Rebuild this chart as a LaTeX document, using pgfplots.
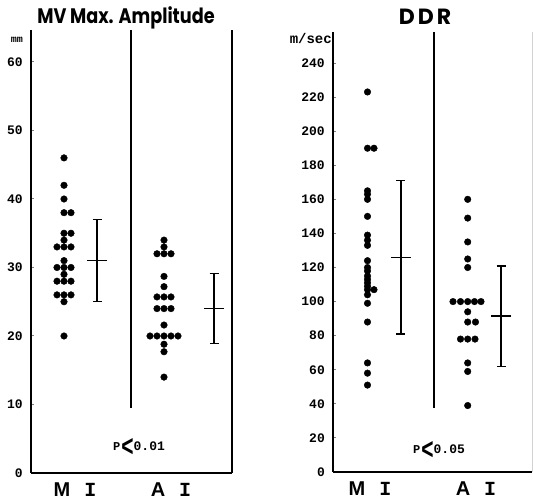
\documentclass[border=0pt]{standalone}
\usepackage{fontspec}
\setmainfont{Liberation Sans}
\newfontfamily\monofont{Liberation Mono}
\newfontfamily\titlefont{Poppins}
\usepackage{pgfplots}
\pgfplotsset{compat=1.18}

\newcommand\grp[1]{#1\hspace{14pt}{\monofont I}}
\newcommand\pval[1]{{\monofont\bfseries\fontsize{12}{12}\selectfont P}\hspace{1pt}\raisebox{-6pt}{\scalebox{0.7}[1]{\bfseries\fontsize{30}{30}\selectfont <}}{\monofont\bfseries\fontsize{13}{13}\selectfont #1}}

\pgfplotsset{
  panel/.style={
    scale only axis, anchor=south west, clip=false,
    axis x line=bottom, axis y line=left,
    axis line style={-, line width=1.6pt},
    tick align=inside, major tick length=3pt,
    y tick style={line width=1pt},
    x tick style={draw=none},
    /pgf/number format/assume math mode=true,
    yticklabel style={font=\monofont\bfseries\fontsize{13}{13}\selectfont, inner sep=0pt, xshift=-8pt},
    xticklabel style={font=\bfseries\fontsize{20}{20}\selectfont, inner sep=0pt, anchor=north, yshift=-10pt},
  },
  dots/.style={only marks, mark=*, mark size=3.3pt, black},
  sd/.style={black, only marks, mark=-, mark size=10pt, mark options={line width=1.5pt},
    error bars/.cd, y dir=both, y explicit, error mark=-,
    error bar style={line width=1.6pt},
    error mark options={rotate=90, line width=1.5pt, mark size=4.5pt}},
}

\begin{document}
\begin{tikzpicture}
\useasboundingbox (0pt,0pt) rectangle (533pt,503pt);

\node[font=\titlefont\bfseries\fontsize{21}{21}\selectfont, xscale=0.84, transform shape] at (126pt,485pt) {MV Max. Amplitude};
\node[font=\titlefont\bfseries\fontsize{22}{22}\selectfont] at (425pt,486pt) {D\hspace{3pt}D\hspace{3pt}R};
\node[font=\monofont\bfseries\fontsize{10}{10}\selectfont] at (17pt,463pt) {mm};
\node[font=\monofont\bfseries\fontsize{14}{14}\selectfont, anchor=east, inner sep=0pt] at (332pt,464pt) {m/sec};

% left panel: MV max. amplitude (mm)
\begin{axis}[panel, at={(31pt,30pt)}, width=201pt, height=443pt,
  xmin=31, xmax=232, ymin=0, ymax=64.67,
  ytick={0,10,...,60},
  xtick={75,171}, xticklabels={{\grp{M}},{\grp{A}}}]
\addplot[dots] coordinates {
  (64,46) (64,42) (64,40) (64,38) (71,38) (64,35) (71,35) (64,34)
  (57,33) (64,33) (71,33) (64,31) (57,30) (64,30) (71,30) (64,29)
  (57,28) (64,28) (71,28) (57,26) (64,26) (71,26) (64,25) (64,20)};
\addplot[dots] coordinates {
  (164,34) (164,33) (157,32) (164,32) (171,32) (164,28.7) (164,27.2)
  (157,25.7) (164,25.7) (171,25.7) (157,24) (164,24) (171,24) (164,21.6)
  (150,20) (157,20) (164,20) (171,20) (178,20) (164,18.8) (164,17.7) (164,14)};
\addplot[sd] coordinates {(97,31) +- (0,6)};
\addplot[sd] coordinates {(214,24) +- (0,5.1)};
\draw[line width=1.6pt] (axis cs:131,9.5) -- (axis cs:131,64.67);
\draw[line width=1.6pt] (axis cs:232,0) -- (axis cs:232,64.67);
\node[anchor=west, inner sep=0pt] at (axis cs:113,3.65) {\pval{0.01}};
\end{axis}

% right panel: DDR (m/sec)
\begin{axis}[panel, at={(333pt,31pt)}, width=199pt, height=440pt,
  xmin=333, xmax=532, ymin=0, ymax=258.2,
  ytick={0,20,...,240},
  xtick={370,476}, xticklabels={{\grp{M}},{\grp{A}}}]
\addplot[dots] coordinates {
  (367.5,223) (367.5,190) (374,190) (367.5,165) (367.5,163) (367.5,160)
  (367.5,150) (367.5,139) (367.5,136) (367.5,133) (367.5,124) (367.5,120)
  (367.5,118) (367.5,115) (367.5,113) (367.5,111) (367.5,109) (367.5,107)
  (374,107) (367.5,104) (367.5,99) (367.5,88) (367.5,64) (367.5,58) (367.5,51)};
\addplot[dots] coordinates {
  (467.7,160) (467.7,149) (467.7,135) (467.7,125) (467.7,120)
  (453,100) (460.5,100) (467.7,100) (474.5,100) (481,100) (467.7,94)
  (467.7,88) (475.5,88) (460.5,78) (467.7,78) (475,78)
  (467.7,64) (467.7,59) (467.7,39)};
\addplot[sd] coordinates {(400.7,126) +- (0,45)};
\addplot[sd] coordinates {(501,91.5) +- (0,29.5)};
\draw[line width=1.6pt] (axis cs:434,37.6) -- (axis cs:434,258.2);
\draw[gray!35, line width=0.6pt] (axis cs:532,0) -- (axis cs:532,258.2);
\node[anchor=west, inner sep=0pt] at (axis cs:413,12.9) {\pval{0.05}};
\end{axis}
\end{tikzpicture}
\end{document}
